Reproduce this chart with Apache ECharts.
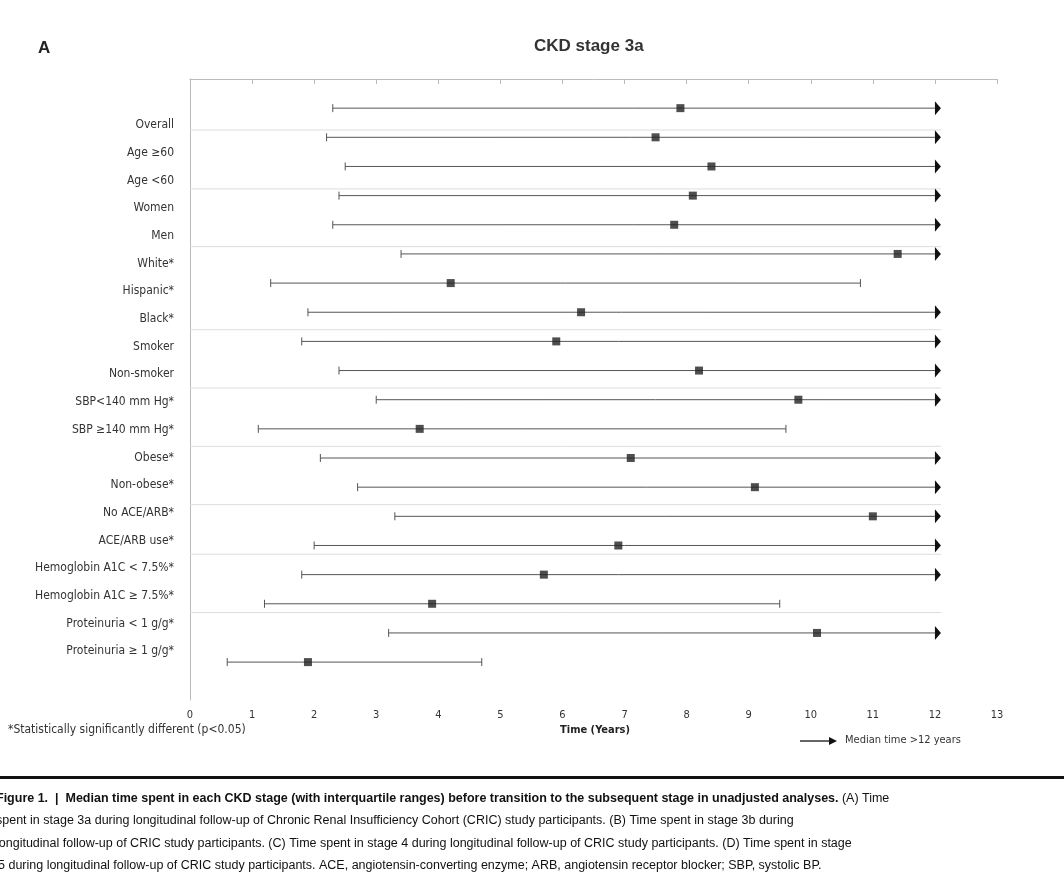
<!DOCTYPE html>
<html><head><meta charset="utf-8">
<script src="https://cdn.jsdelivr.net/npm/echarts@6/dist/echarts.min.js"></script>
<style>html,body{margin:0;background:#fff}#c{width:1064px;height:876px}</style>
</head><body><div id="c"></div>
<script>
var groups = ['Overall','Age \u226560','Age <60','Women','Men','White*','Hispanic*','Black*','Smoker','Non-smoker',
  'SBP<140 mm Hg*','SBP \u2265140 mm Hg*','Obese*','Non-obese*','No ACE/ARB*','ACE/ARB use*',
  'Hemoglobin A1C < 7.5%*','Hemoglobin A1C \u2265 7.5%*','Proteinuria < 1 g/g*','Proteinuria \u2265 1 g/g*'];
var lowQ   = [2.3,2.2,2.5,2.4,2.3,3.4,1.3,1.9,1.8,2.4,3.0,1.1,2.1,2.7,3.3,2.0,1.8,1.2,3.2,0.6];
var median = [7.9,7.5,8.4,8.1,7.8,11.4,4.2,6.3,5.9,8.2,9.8,3.7,7.1,9.1,11.0,6.9,5.7,3.9,10.1,1.9];
var highQ  = [12,12,12,12,12,12,10.8,12,12,12,12,9.6,12,12,12,12,12,9.5,12,4.7];
var beyond = [1,1,1,1,1,1,0,1,1,1,1,0,1,1,1,1,1,0,1,0];
var separators = [1.75,3.77,5.75,8.6,10.6,12.6,14.6,16.3,18.3];
var labelPos = [1.58,2.53,3.48,4.43,5.38,6.33,7.28,8.23,9.18,10.13,11.08,12.03,12.98,13.93,14.88,15.83,16.78,17.73,18.68,19.6];

var chart = echarts.init(document.getElementById('c'));
var rows = groups.map(function(g,i){ return [lowQ[i], highQ[i], i+1, beyond[i]]; });
var font = 'DejaVu Sans Condensed, Liberation Sans, Arial';
var cap = '12.5px Liberation Sans, Arial';

chart.setOption({
  animation:false,
  grid:{left:190,right:67,top:79,bottom:176},
  xAxis:{type:'value',position:'bottom',min:0,max:13,interval:1,
    axisLine:{lineStyle:{color:'#bbb'}},axisTick:{show:true,lineStyle:{color:'#bbb'}},
    splitLine:{show:false},axisLabel:{color:'#333',fontSize:11,fontFamily:font,margin:10}},
  yAxis:{type:'value',min:0,max:21.3,inverse:true,
    axisLine:{show:true,lineStyle:{color:'#bbb'}},axisTick:{show:false},
    axisLabel:{show:false},splitLine:{show:false}},
  graphic:[
    {type:'text',left:38,top:40,style:{text:'A',font:'bold 17px Liberation Sans, Arial',fill:'#222'}},
    {type:'text',left:534,top:38,style:{text:'CKD stage 3a',font:'bold 17px Liberation Sans, Arial',fill:'#333'}},
    {type:'text',left:8,top:724,style:{text:'*Statistically significantly different (p<0.05)',font:'12px '+font,fill:'#333'}},
    {type:'text',left:560,top:725,style:{text:'Time (Years)',font:'bold 11px '+font,fill:'#222'}},
    {type:'line',shape:{x1:800,y1:741,x2:830,y2:741},style:{stroke:'#111',lineWidth:1.3}},
    {type:'polygon',shape:{points:[[829,737],[837,741],[829,745]]},style:{fill:'#111'}},
    {type:'text',left:845,top:735,style:{text:'Median time >12 years',font:'11px '+font,fill:'#333'}},
    {type:'rect',shape:{x:0,y:776,width:1064,height:3},style:{fill:'#111'}},
    {type:'text',left:-4,top:792,style:{
      text:'{b|Figure 1.  |  Median time spent in each CKD stage (with interquartile ranges) before transition to the subsequent stage in unadjusted analyses.} {n|(A) Time}',
      rich:{b:{font:'bold '+cap,fill:'#111'},n:{font:cap,fill:'#111'}}}},
    {type:'text',left:-4,top:814,style:{text:'spent in stage 3a during longitudinal follow-up of Chronic Renal Insufficiency Cohort (CRIC) study participants. (B) Time spent in stage 3b during',font:cap,fill:'#111'}},
    {type:'text',left:-4,top:837,style:{text:'longitudinal follow-up of CRIC study participants. (C) Time spent in stage 4 during longitudinal follow-up of CRIC study participants. (D) Time spent in stage',font:cap,fill:'#111'}},
    {type:'text',left:-2,top:859,style:{text:'5 during longitudinal follow-up of CRIC study participants. ACE, angiotensin-converting enzyme; ARB, angiotensin receptor blocker; SBP, systolic BP.',font:cap,fill:'#111'}}
  ],
  series:[
    {type:'custom',silent:true,data:separators.map(function(s){return [s];}),
      renderItem:function(p,api){
        var a=api.coord([0,api.value(0)]), b=api.coord([12.1,api.value(0)]);
        return {type:'line',shape:{x1:a[0],y1:a[1],x2:b[0],y2:b[1]},style:{stroke:'#ddd',lineWidth:1}};
      }},
    {type:'custom',silent:true,data:labelPos.map(function(v,i){return [v,i];}),
      renderItem:function(p,api){
        var c=api.coord([0,api.value(0)]);
        return {type:'text',x:c[0]-16,y:c[1],style:{text:groups[api.value(1)],align:'right',verticalAlign:'middle',font:'12px '+font,fill:'#333'}};
      }},
    {type:'custom',silent:true,data:rows,
      renderItem:function(p,api){
        var lo=api.coord([api.value(0),api.value(2)]), hi=api.coord([api.value(1),api.value(2)]);
        var kids=[
          {type:'line',shape:{x1:lo[0],y1:lo[1],x2:hi[0],y2:hi[1]},style:{stroke:'#555',lineWidth:1}},
          {type:'line',shape:{x1:lo[0],y1:lo[1]-4,x2:lo[0],y2:lo[1]+4},style:{stroke:'#555',lineWidth:1}}
        ];
        if(api.value(3)){
          kids.push({type:'polygon',shape:{points:[[hi[0],hi[1]-7],[hi[0]+6,hi[1]],[hi[0],hi[1]+7]]},style:{fill:'#111'}});
        } else {
          kids.push({type:'line',shape:{x1:hi[0],y1:hi[1]-4,x2:hi[0],y2:hi[1]+4},style:{stroke:'#555',lineWidth:1}});
        }
        return {type:'group',children:kids};
      }},
    {type:'scatter',symbol:'rect',symbolSize:8,itemStyle:{color:'#222'},
      data:median.map(function(m,i){return [m,i+1];})}
  ]
});
</script></body></html>
